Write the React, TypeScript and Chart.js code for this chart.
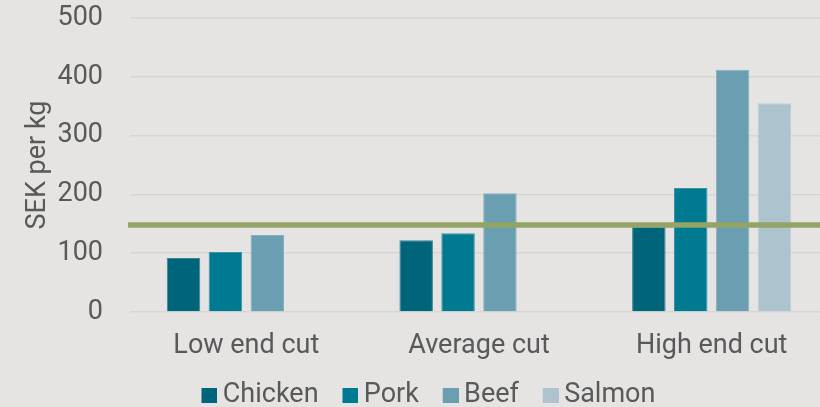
import React, { useEffect, useRef } from "react";
import { Chart, registerables } from "chart.js";

Chart.register(...registerables);

const categories = ["Low end cut", "Average cut", "High end cut"];
const seriesNames = ["Chicken", "Pork", "Beef", "Salmon"];
const chicken = [92, 122, 145];
const pork = [102, 134, 211];
const beef = [131, 202, 412];
const salmon = [null, null, 355];
const referenceLevel = 148;
const yTicks = [0, 100, 200, 300, 400, 500];

const colors = ["#00657a", "#007a90", "#6a9fb2", "#adc4cf"];
const borders = ["#3a8596", "#3a93a5", "#86b1c0", "#bccfd8"];

const FONT = { family: "Roboto", size: 27 };
const TEXT = "#595959";

const LEAD = 13.6;
const BOXW = 8.1 + LEAD;

const refLinePlugin = {
  id: "refLine",
  afterDatasetsDraw(chart: any) {
    const { ctx, chartArea, scales } = chart;
    const y = scales.y.getPixelForValue(referenceLevel);
    ctx.save();
    ctx.strokeStyle = "#93a466";
    ctx.lineWidth = 5.5;
    ctx.beginPath();
    ctx.moveTo(chartArea.left - 2, y);
    ctx.lineTo(chartArea.right, y);
    ctx.stroke();
    ctx.restore();
  },
};

const bgPlugin = {
  id: "bg",
  beforeDraw(chart: any) {
    const { ctx, width, height } = chart;
    ctx.save();
    ctx.fillStyle = "#e5e4e3";
    ctx.fillRect(0, 0, width, height);
    ctx.restore();
  },
};

function makeSwatch(color: string): HTMLCanvasElement {
  const c = document.createElement("canvas");
  const w = Math.round(BOXW + 15.8);
  c.width = w;
  c.height = 15;
  const g = c.getContext("2d")!;
  g.fillStyle = color;
  g.fillRect(w - 16, 0, 16, 15);
  return c;
}

export default function App() {
  const ref = useRef<HTMLCanvasElement>(null);
  useEffect(() => {
    if (!ref.current) return;
    const data = [chicken, pork, beef, salmon];
    const swatches = colors.map(makeSwatch);
    const chart = new Chart(ref.current, {
      type: "bar",
      data: {
        labels: categories,
        datasets: seriesNames.map((name, i) => ({
          label: name,
          data: data[i] as any,
          backgroundColor: colors[i],
          borderColor: borders[i],
          borderWidth: 1,
          categoryPercentage: 0.72,
          barPercentage: 0.8,
        })),
      },
      options: {
        responsive: false,
        animation: false,
        layout: { padding: { left: 15, top: 0, right: 28, bottom: -11.5 } },
        plugins: {
          legend: {
            position: "bottom",
            labels: {
              font: FONT,
              color: TEXT,
              usePointStyle: true,
              boxWidth: BOXW,
              boxHeight: 15,
              padding: 10,
              generateLabels: (ch: any) => {
                const items = Chart.defaults.plugins.legend.labels.generateLabels(ch);
                return items.map((it: any, i: number) => ({
                  ...it,
                  pointStyle: swatches[i],
                  lineWidth: 0,
                }));
              },
            },
          },
          tooltip: { enabled: false },
        },
        scales: {
          x: {
            grid: { display: false, drawTicks: false },
            border: { display: false },
            ticks: {
              font: FONT,
              color: TEXT,
              padding: 18,
            },
            afterFit: (axis: any) => {
              axis.height = 59.5;
            },
          },
          y: {
            min: 0,
            max: 500,
            afterBuildTicks: (axis: any) => {
              axis.ticks = yTicks.map((v) => ({ value: v }));
            },
            afterFit: (axis: any) => {
              axis.width = 115;
              axis.paddingTop = 18;
              axis.paddingBottom = 0;
            },
            grid: { color: "#d7d6d5", lineWidth: 1.5, drawTicks: false },
            border: { display: false },
            ticks: {
              font: FONT,
              color: TEXT,
              padding: 27,
            },
            title: {
              display: true,
              text: "SEK per kg",
              font: FONT,
              color: TEXT,
              padding: { top: 7.3, bottom: 0 },
            },
          },
        },
      },
      plugins: [bgPlugin, refLinePlugin],
    });
    return () => chart.destroy();
  }, []);
  return (
    <div
      style={{
        position: "fixed",
        left: 0,
        top: 0,
        width: 820,
        height: 407,
        overflow: "hidden",
        background: "#e5e4e3",
      }}
    >
      <canvas ref={ref} width={856} height={407} style={{ display: "block" }} />
    </div>
  );
}
